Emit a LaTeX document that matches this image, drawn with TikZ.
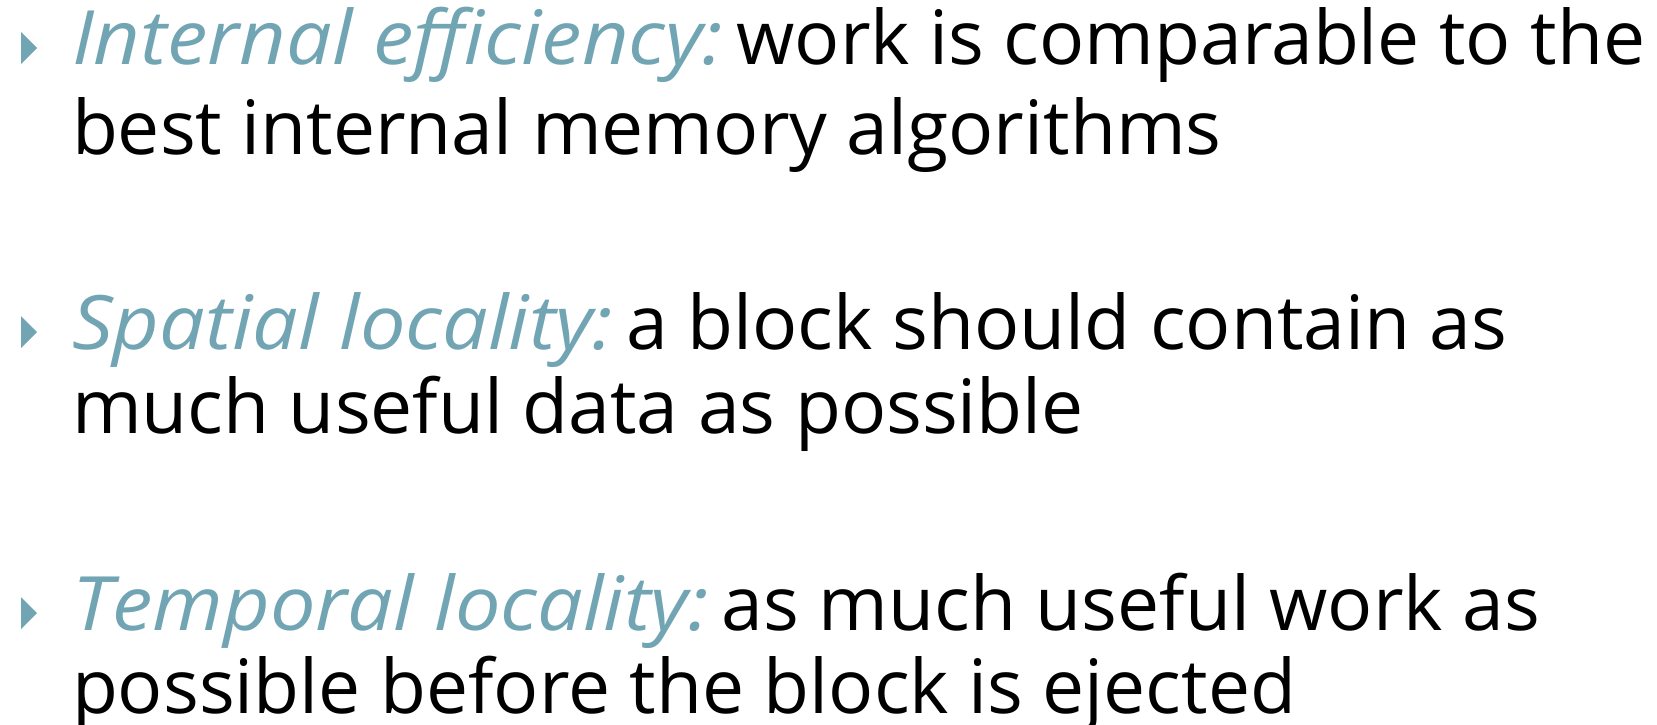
\documentclass[tikz,border=0pt]{standalone}
\usepackage{fontspec}
\setmainfont{Open Sans}[ItalicFeatures={FakeStretch=1.08}]
\definecolor{leadteal}{HTML}{72A5B3}
\newcommand{\leadin}[1]{\textcolor{leadteal}{\itshape #1}\hspace{13pt}}
\tikzset{
  line/.style={anchor=base west, inner sep=0pt, outer sep=0pt,
               font=\fontsize{75}{90}\selectfont, text=black},
  bulletmark/.style={fill=leadteal, draw=none},
}
\begin{document}
\begin{tikzpicture}[x=1pt,y=-1pt]
  \useasboundingbox (0,0) rectangle (1657,725);
  % bullet markers
  \foreach \b in {65,349,630}
    \fill[bulletmark] (21,\b-33) -- (37,\b-17) -- (21,\b-1) -- cycle;
  % first item
  \node[line] (l1) at (72,65)  {\leadin{Internal efficiency:}work is comparable to the};
  \node[line] (l2) at (72,154) {best internal memory algorithms};
  % second item
  \node[line] (l3) at (72,349) {\leadin{Spatial locality:}a block should contain as};
  \node[line] (l4) at (72,433) {much useful data as possible};
  % third item
  \node[line] (l5) at (72,630) {\leadin{Temporal locality:}as much useful work as};
  \node[line] (l6) at (72,713) {possible before the block is ejected};
\end{tikzpicture}
\end{document}
